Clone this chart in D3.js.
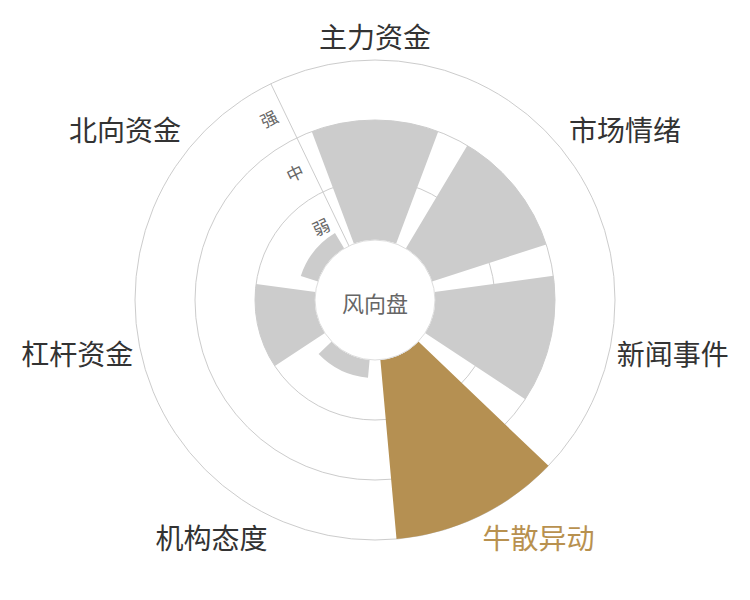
<!DOCTYPE html>
<html>
<head>
<meta charset="utf-8">
<script src="https://cdn.jsdelivr.net/npm/d3@7"></script>
<style>
  body { margin: 0; background: #fff; }
  text { font-family: "Noto Sans CJK SC", "Noto Sans", sans-serif; }
</style>
</head>
<body>
<svg class="chart"></svg>
<script>
// categories round the dial, clockwise from top
var categories = ["主力资金", "市场情绪", "新闻事件", "牛散异动", "机构态度", "杠杆资金", "北向资金"];
// strength of each one (0 = none, 1 = 弱, 2 = 中, 3 = 强)
var values = [2, 2, 2, 3, 0.3, 1, 0.3];
var levels = ["弱", "中", "强"];
var highlight = "牛散异动";

var drawDial = function(w, h, c)
{
  var svg = d3.select(c)
              .attr("width", w)
              .attr("height", h);

  var cx = 375, cy = 300;
  var inner = 60, outer = 240;
  var step = 2 * Math.PI / categories.length;

  var rScale = d3.scaleLinear()
                 .domain([0, levels.length])
                 .range([inner, outer]);

  var aScale = d3.scaleBand()
                 .domain(categories)
                 .range([-step / 2, 2 * Math.PI - step / 2])
                 .paddingInner(0.2)
                 .paddingOuter(0.1);

  var g = svg.append("g")
             .attr("transform", "translate(" + cx + "," + cy + ")");

  // grid rings
  g.append("g").attr("class", "grid")
   .selectAll("circle")
   .data(d3.range(1, levels.length + 1))
   .enter()
   .append("circle")
   .attr("r", function(d){ return rScale(d); })
   .attr("fill", "none")
   .attr("stroke", "#cccccc")
   .attr("stroke-width", 1);

  // radius axis line
  var axisAngle = -step / 2;
  g.append("line")
   .attr("x1", inner * Math.sin(axisAngle))
   .attr("y1", -inner * Math.cos(axisAngle))
   .attr("x2", outer * Math.sin(axisAngle))
   .attr("y2", -outer * Math.cos(axisAngle))
   .attr("stroke", "#cccccc");

  var arc = d3.arc()
              .innerRadius(inner)
              .outerRadius(function(d){ return rScale(d.value); })
              .startAngle(function(d){ return aScale(d.name); })
              .endAngle(function(d){ return aScale(d.name) + aScale.bandwidth(); });

  var bars = categories.map(function(d, i){
    return { name: d, value: values[i] };
  });

  g.append("g").attr("class", "bars")
   .selectAll("path")
   .data(bars)
   .enter()
   .append("path")
   .attr("d", arc)
   .attr("fill", function(d){ return d.name == highlight ? "#b59052" : "#cccccc"; });

  // centre disc
  g.append("circle")
   .attr("r", inner)
   .attr("fill", "#fff")
   .attr("stroke", "#dddddd");

  g.append("text")
   .attr("y", 2)
   .attr("text-anchor", "middle")
   .attr("dominant-baseline", "central")
   .attr("font-size", 22)
   .attr("fill", "#666")
   .text("风向盘");

  // level labels along the axis
  var deg = axisAngle * 180 / Math.PI;
  g.append("g").attr("class", "levels")
   .selectAll("text")
   .data(levels)
   .enter()
   .append("text")
   .attr("transform", function(d, i){
     var r = rScale(i + 0.5);
     var x = r * Math.sin(axisAngle) - 17 * Math.cos(axisAngle);
     var y = -r * Math.cos(axisAngle) - 17 * Math.sin(axisAngle);
     return "translate(" + x + "," + y + ") rotate(" + deg + ")";
   })
   .attr("text-anchor", "middle")
   .attr("dominant-baseline", "central")
   .attr("font-size", 17)
   .attr("fill", "#666")
   .text(function(d){ return d; });

  // category labels
  var labelR = outer + 8;
  var fs = 28;
  g.append("g").attr("class", "labels")
   .selectAll("text")
   .data(categories)
   .enter()
   .append("text")
   .each(function(d){
     var a = aScale(d) + aScale.bandwidth() / 2;
     var x = labelR * Math.sin(a);
     var y = -labelR * Math.cos(a);
     var anchor = Math.abs(x) / labelR < 0.3 ? "middle" : (x > 0 ? "start" : "end");
     var base = y;
     if (Math.abs(y) / labelR < 0.3) base = y + fs * 0.36;
     else if (y > 0) base = y + fs * 0.9;
     else base = y - fs * 0.16;
     d3.select(this)
       .attr("x", x)
       .attr("y", base)
       .attr("text-anchor", anchor);
   })
   .attr("font-size", fs)
   .attr("fill", function(d){ return d == highlight ? "#b8914f" : "#333"; })
   .text(function(d){ return d; });
}

drawDial(750, 600, ".chart");
</script>
</body>
</html>
